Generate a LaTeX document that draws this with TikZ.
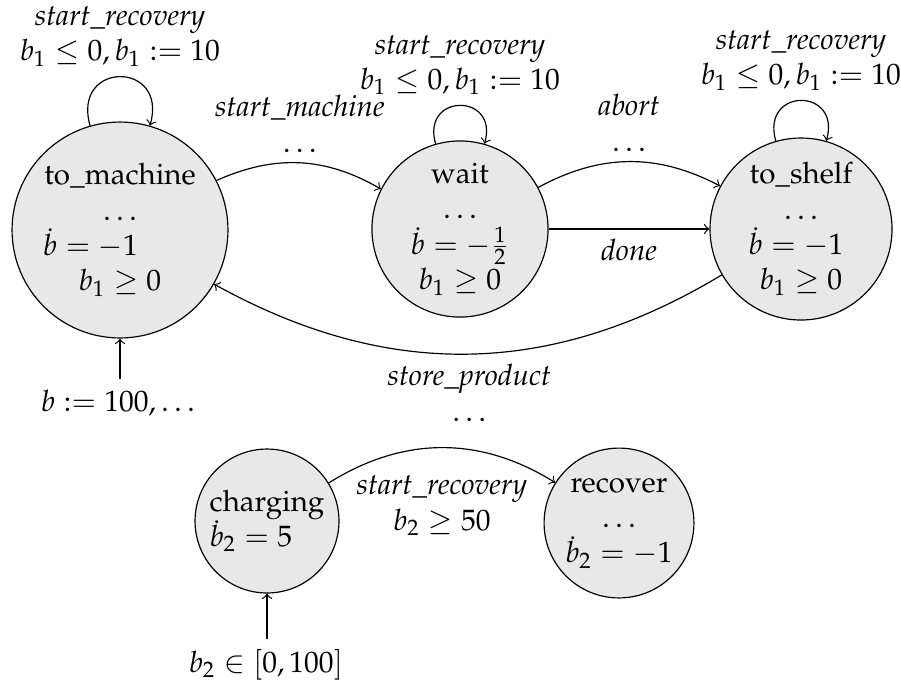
\documentclass[tikz,border=0pt]{standalone}
\usepackage[T1]{fontenc}
\usepackage{mathpazo}
\begin{document}
\begin{tikzpicture}[x=0.339pt,y=-0.339pt,
  state/.style={circle,draw,fill=black!9,inner sep=0pt,align=center},
  trans/.style={->,>=to},
  selfloop/.style={out=106,in=74,looseness=1,min distance=#1},
  lbl/.style={align=center}]
\useasboundingbox (0,0) rectangle (901,682);

% locations
\node[state,minimum size=73.2pt] (tm) at (120,230)
  {to\_machine\\$\dots$\\$\dot{b}=-1$\hbox to 20pt{}\\$b_1\geq 0$};
\node[state,minimum size=59.7pt] (wait) at (460,229)
  {wait\\$\dots$\\$\dot{b}=-\frac{1}{2}$\\$b_1\geq 0$};
\node[state,minimum size=61.7pt] (shelf) at (801,229)
  {to\_shelf\\$\dots$\\$\dot{b}=-1$\hbox to 3.4pt{}\\$b_1\geq 0$};
\node[state,minimum size=48.8pt,align=left] (chg) at (267,521)
  {charging\\$\dot{b}_2=5$};
\node[state,minimum size=50.8pt] (rec) at (619,523)
  {recover\\$\dots$\\$\dot{b}_2=-1$};

% initial values
\node[anchor=base] (init1) at (118,411) {$b:=100,\dots$};
\node[anchor=base] (init2) at (266,672) {$b_2\in[0,100]$};
\draw[trans] (init1.north -| tm.south) -- (tm.south);
\draw[trans] (init2.north -| chg.south) -- (chg.south);

% self loops
\draw[trans] (tm) to[selfloop=23pt] node[above,lbl]
  {\emph{start\_recovery}\\$b_1\leq 0, b_1:=10$} (tm);
\draw[trans] (wait) to[selfloop=18pt] node[above,lbl]
  {\emph{start\_recovery}\\$b_1\leq 0, b_1:=10$} (wait);
\draw[trans] (shelf) to[selfloop=19pt] node[above,lbl]
  {\emph{start\_recovery}\\$b_1\leq 0, b_1:=10$} (shelf);

% transitions
\draw[trans] (tm) to[bend left=27] node[above,lbl]
  {\emph{start\_machine}\\$\dots$} (wait);
\draw[trans] (wait) to[bend left=28] node[above,lbl]
  {\emph{abort}\\$\dots$} (shelf);
\draw[trans] (wait) -- node[below] {\emph{done}} (shelf);
\draw[trans] (shelf) to[bend left=30] node[below,lbl]
  {\emph{store\_product}\\$\dots$} (tm);
\draw[trans] (chg) to[bend left=32] node[below=6pt,lbl]
  {\emph{start\_recovery}\\$b_2\geq 50$} (rec);
\end{tikzpicture}
\end{document}
